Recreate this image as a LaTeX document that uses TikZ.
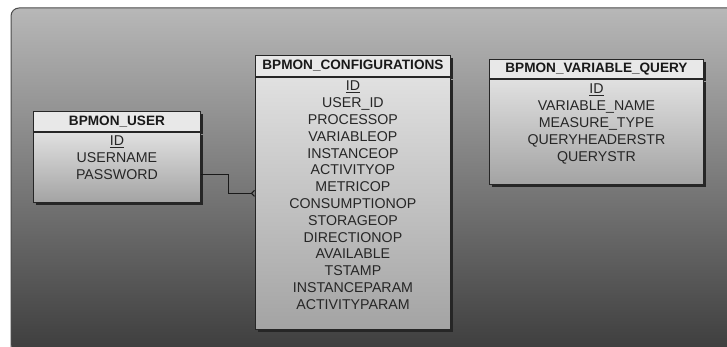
\documentclass[tikz,border=0pt]{standalone}
\usepackage{fontspec}
\setmainfont{Liberation Sans}
\usetikzlibrary{positioning, arrows.meta, shadows, calc}

\tikzset{
  tblhead/.style={draw=black!85, fill=black!9, line width=0.9pt, inner sep=0pt, anchor=north west,
    font=\fontsize{13.6}{16}\selectfont\bfseries, text=black!90},
  tblbody/.style={draw=black!85, top color=black!12, bottom color=black!36, line width=0.9pt,
    inner sep=0pt, anchor=north west},
  tblfields/.style={font=\fontsize{14.2}{16.8}\selectfont, text=black!85, align=center, inner sep=0pt},
  tblshadow/.style={drop shadow={shadow xshift=2.5pt, shadow yshift=-2.5pt, fill=black!85, opacity=1}},
  relline/.style={draw=black!90, line width=1pt, -{Straight Barb[reversed, length=3pt, width=6pt]}}
}

\begin{document}
\begin{tikzpicture}[x=1pt, y=-1pt]
\useasboundingbox (0,0) rectangle (727,347);
% ---- panel with vertical gradient
\shade[top color=black!28, bottom color=black!76, rounded corners=8pt] (11,352) -- (11,8) -- (740,8) -- (740,352) -- cycle;
\draw[black!70, line width=1pt, rounded corners=8pt] (11,352) -- (11,8) -- (740,8);

% ---- BPMON_USER
\node[tblhead, tblshadow, minimum width=167, minimum height=20] (userhead) at (33,111) {BPMON\_USER};
\node[tblbody, tblshadow, minimum width=167, minimum height=70] (userbody) at (userhead.south west) {};
\node[tblfields, below=4pt of userbody.north] (userfields) {\underline{ID}\\USERNAME\\PASSWORD};

% ---- BPMON_CONFIGURATIONS
\node[tblhead, tblshadow, minimum width=195, minimum height=21] (confhead) at (255,55) {BPMON\_CONFIGURATIONS};
\node[tblbody, tblshadow, minimum width=195, minimum height=252] (confbody) at (confhead.south west) {};
\node[tblfields, below=4pt of confbody.north] (conffields) {\underline{ID}\\USER\_ID\\PROCESSOP\\VARIABLEOP\\INSTANCEOP\\ACTIVITYOP\\METRICOP\\CONSUMPTIONOP\\STORAGEOP\\DIRECTIONOP\\AVAILABLE\\TSTAMP\\INSTANCEPARAM\\ACTIVITYPARAM};

% ---- BPMON_VARIABLE_QUERY
\node[tblhead, tblshadow, minimum width=214, minimum height=19] (varqhead) at (489,59) {BPMON\_VARIABLE\_QUERY};
\node[tblbody, tblshadow, minimum width=214, minimum height=105] (varqbody) at (varqhead.south west) {};
\node[tblfields, below=5pt of varqbody.north] (varqfields) {\underline{ID}\\VARIABLE\_NAME\\MEASURE\_TYPE\\QUERYHEADERSTR\\QUERYSTR};

% ---- relation user -> configurations
\draw[relline] ([yshift=-7pt]userbody.east) -- ++(28,0) |- ([yshift=10pt]confbody.west);
\end{tikzpicture}
\end{document}
